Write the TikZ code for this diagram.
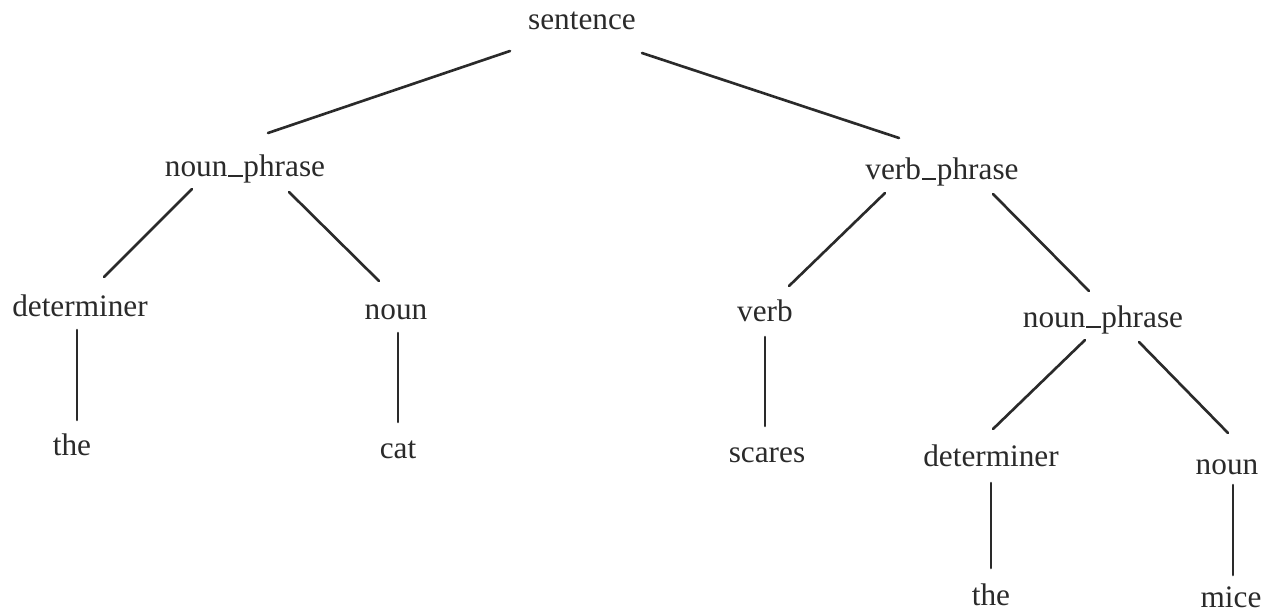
\documentclass[tikz,border=0pt]{standalone}
\usepackage{fontspec}
\setmainfont{Liberation Serif}
\definecolor{ink}{HTML}{2A2A2A}
\newcommand{\usc}{\kern0.03em\rule[-0.02em]{0.45em}{0.06em}\kern0.03em}
\begin{document}
\begin{tikzpicture}[x=0.02cm,y=-0.02cm,
  lbl/.style={anchor=base,inner sep=0pt,text=ink,font=\fontsize{17.8}{20}\selectfont},
  edge/.style={draw=ink,line width=1.5pt,line cap=round}]
\useasboundingbox (0,0) rectangle (1267,612);
\node[lbl] (s) at (582,30) {sentence};
\node[lbl] (np1) at (245,176) {noun\usc phrase};
\node[lbl] (vp) at (942,179) {verb\usc phrase};
\node[lbl] (det1) at (80,316) {determiner};
\node[lbl] (n1) at (396,319) {noun};
\node[lbl] (v) at (765,321) {verb};
\node[lbl] (np2) at (1103,327) {noun\usc phrase};
\node[lbl] (the1) at (72,455) {the};
\node[lbl] (cat) at (398,458) {cat};
\node[lbl] (sc) at (767,462) {scares};
\node[lbl] (det2) at (991,466) {determiner};
\node[lbl] (n2) at (1227,474) {noun};
\node[lbl] (the2) at (991,605) {the};
\node[lbl] (mice) at (1231,607) {mice};
\draw[edge] ([shift={(-72,21)}]s.base) -- ([shift={(23,-43)}]np1.base);
\draw[edge] ([shift={(60,23)}]s.base) -- ([shift={(-43,-41)}]vp.base);
\draw[edge] ([shift={(-53,13)}]np1.base) -- ([shift={(24,-39)}]det1.base);
\draw[edge] ([shift={(44,16)}]np1.base) -- ([shift={(-17,-38)}]n1.base);
\draw[edge] ([shift={(-57,14)}]vp.base) -- ([shift={(24,-35)}]v.base);
\draw[edge] ([shift={(51,15)}]vp.base) -- ([shift={(-14,-36)}]np2.base);
\draw[edge] ([shift={(-3,14)}]det1.base) -- ([shift={(5,-35)}]the1.base);
\draw[edge] ([shift={(2,14)}]n1.base) -- ([shift={(0,-36)}]cat.base);
\draw[edge] ([shift={(0,16)}]v.base) -- ([shift={(-2,-36)}]sc.base);
\draw[edge] ([shift={(-18,13)}]np2.base) -- ([shift={(2,-37)}]det2.base);
\draw[edge] ([shift={(36,15)}]np2.base) -- ([shift={(1,-41)}]n2.base);
\draw[edge] ([shift={(0,17)}]det2.base) -- ([shift={(0,-37)}]the2.base);
\draw[edge] ([shift={(6,11)}]n2.base) -- ([shift={(2,-32)}]mice.base);
\end{tikzpicture}
\end{document}
